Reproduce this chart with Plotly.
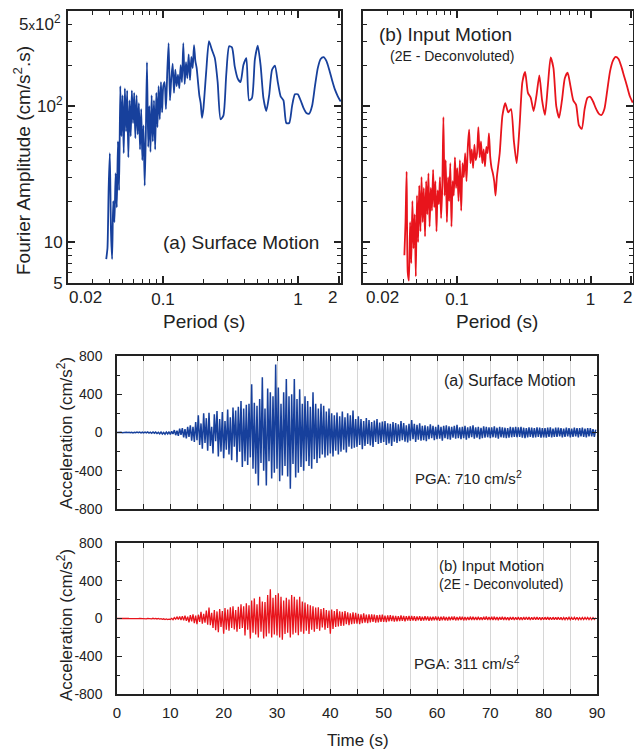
import numpy as np
import plotly.graph_objects as go

# ---------------- Fourier amplitude spectra ----------------
period_s = [
    0.0380, 0.0388, 0.0396, 0.0404, 0.0412, 0.0420, 0.0428, 0.0437, 0.0446, 0.0455,
    0.0464, 0.0473, 0.0483, 0.0492, 0.0502, 0.0512, 0.0522, 0.0533, 0.0543, 0.0554,
    0.0565, 0.0577, 0.0588, 0.0600, 0.0612, 0.0624, 0.0637, 0.0650, 0.0663, 0.0676,
    0.0690, 0.0703, 0.0717, 0.0732, 0.0746, 0.0761, 0.0777, 0.0792, 0.0808, 0.0824,
    0.0841, 0.0858, 0.0875, 0.0892, 0.0910, 0.0928, 0.0947, 0.0966, 0.0985, 0.1005,
    0.1028, 0.1052, 0.1076, 0.1101, 0.1126, 0.1152, 0.1179, 0.1206, 0.1234, 0.1262,
    0.1291, 0.1321, 0.1351, 0.1382, 0.1414, 0.1447, 0.1480, 0.1514, 0.1549, 0.1585,
    0.1621, 0.1659, 0.1697, 0.1736, 0.1776, 0.1817, 0.1858, 0.1901, 0.1945, 0.1990,
    0.209, 0.219, 0.230, 0.242, 0.254, 0.267, 0.280, 0.294, 0.309, 0.324,
    0.340, 0.357, 0.375, 0.394, 0.414, 0.434, 0.456, 0.479, 0.503, 0.528,
    0.554, 0.582, 0.611, 0.642, 0.674, 0.708, 0.743, 0.780, 0.819, 0.860,
    0.903, 0.948, 0.995, 1.045, 1.097, 1.152, 1.210, 1.270, 1.334, 1.400,
    1.470, 1.544, 1.621, 1.702, 1.787, 1.877, 1.970, 2.070,
]

fourier_surface = [
    7.5, 9, 25, 45, 12, 7.5, 20, 14, 32, 18,
    55, 24, 140, 60, 120, 45, 135, 65, 130, 42,
    110, 60, 130, 75, 125, 58, 120, 62, 105, 48,
    95, 40, 72, 26, 60, 210, 50, 100, 46, 120,
    55, 110, 48, 125, 70, 140, 80, 150, 90, 140,
    150, 95, 180, 290, 110, 160, 205, 125, 185, 140,
    170, 135, 200, 150, 290, 145, 210, 160, 240, 155,
    230, 190, 280, 215, 190, 150, 120, 105, 82, 95,
    180, 300, 260, 225, 150, 80, 85, 170, 275, 270,
    195, 160, 150, 200, 225, 110, 115, 220, 278, 200,
    115, 92, 120, 185, 198, 150, 118, 110, 75, 75,
    100, 122, 122, 110, 97, 89, 88, 100, 140, 190,
    222, 229, 215, 185, 155, 132, 118, 108,
]

fourier_input = [
    None, None, None, 8, 14, 33, 6, 5.2, 14, 7,
    20, 9, 16, 5.6, 22, 10, 26, 12, 30, 14,
    25, 11, 28, 16, 32, 13, 25, 17, 34, 18,
    28, 12, 24, 19, 30, 15, 26, 83, 22, 40,
    14, 30, 20, 38, 13, 28, 22, 42, 25, 35,
    20, 40, 17, 38, 30, 45, 28, 50, 67, 38,
    48, 35, 52, 40, 45, 70, 42, 55, 38, 48,
    36, 50, 45, 63, 42, 35, 32, 28, 22, 30,
    45, 85, 105, 90, 95, 55, 38, 70, 150, 178,
    125, 115, 92, 120, 168, 110, 86, 140, 228, 190,
    100, 82, 110, 160, 176, 140, 110, 102, 72, 68,
    95, 115, 117, 108, 96, 88, 86, 95, 130, 180,
    215, 230, 222, 195, 165, 140, 118, 106,
]

# ---------------- Acceleration time histories (cm/s^2) ----------------
dt = 0.25
time_s = np.round(np.arange(360) * dt, 2)

acc_surface = [
    0, 2, -1, 3, -2, 1, -3, 2, -1, 3,
    -2, 3, -4, 2, -3, 4, -2, 5, -4, 3,
    -5, 4, -3, 6, -6, 3, -8, 5, -7, 4,
    -10, 2, -14, 4, -16, 0, -18, 5, -15, 8,
    -20, 12, -16, 25, -28, 18, -35, 40, -25, 45,
    -50, 35, -62, 58, -45, 75, -85, 60, -100, 110,
    -80, 180, -130, 95, -170, 200, -110, 150, -190, 205,
    -140, 60, -220, 190, -90, 225, -250, 140, -200, 215,
    -270, 120, -180, 240, -230, 160, -290, 260, -150, 230,
    -310, 270, -200, 330, -360, 250, -300, 290, -340, 300,
    -260, 505, -380, 310, -430, 280, -555, 350, -320, 577,
    -400, 250, -555, 460, -300, 420, -480, 380, -420, 710,
    -380, 470, -510, 300, -450, 420, -350, 559, -460, 380,
    -587, 400, -330, 559, -470, 350, -420, 453, -360, 300,
    -400, 380, -300, 330, -350, 270, -380, 420, -280, 300,
    -320, 250, -270, 300, -230, 280, -260, 220, -240, 250,
    -220, 200, -250, 180, -190, 210, -230, 170, -200, 220,
    -180, 160, -210, 200, -150, 180, -170, 230, -160, 140,
    -150, 170, -130, 140, -175, 120, -140, 150, -120, 130,
    -135, 110, -150, 125, -100, 140, -120, 105, -110, 115,
    -100, 120, -130, 95, -115, 90, -140, 110, -95, 100,
    -110, 85, -90, 120, -80, 100, -95, 75, -105, 90,
    -85, 130, -70, 90, -100, 80, -75, 95, -85, 70,
    -80, 75, -90, 65, -70, 85, -60, 70, -80, 60,
    -70, 80, -65, 60, -85, 70, -60, 75, -70, 65,
    -75, 60, -55, 70, -65, 80, -60, 55, -70, 60,
    -60, 70, -75, 55, -60, 65, -50, 75, -65, 55,
    -55, 60, -70, 50, -60, 65, -55, 60, -50, 55,
    -60, 55, -50, 65, -55, 50, -65, 60, -50, 55,
    -55, 50, -60, 45, -55, 60, -50, 55, -45, 60,
    -50, 55, -45, 60, -55, 50, -60, 45, -50, 55,
    -45, 50, -55, 45, -50, 55, -45, 50, -55, 45,
    -50, 45, -55, 50, -45, 55, -50, 40, -45, 50,
    -45, 50, -40, 45, -50, 40, -45, 50, -40, 45,
    -50, 40, -45, 50, -40, 45, -50, 45, -40, 50,
    -45, 40, -50, 45, -40, 45, -40, 35, -45, 30,
]

acc_input = [
    0, 1, -1, 1, 0, -1, 1, -1, 1, 0,
    -1, 1, -1, 2, -1, 1, -2, 1, -1, 2,
    -2, 1, -3, 2, -2, 1, -4, 2, -3, 1,
    -5, 0, -7, -2, -9, -3, -11, -4, -12, -6,
    -10, 2, -12, 10, -6, 15, -10, 20, -15, 25,
    -20, 30, -25, 20, -40, 35, -30, 45, -50, 30,
    -60, 40, -35, 70, -55, 50, -45, 85, -65, 115,
    -70, 60, -100, 90, -125, 75, -145, 100, -90, 80,
    -160, 110, -120, 95, -130, 120, -100, 130, -115, 90,
    -140, 125, -110, 150, -100, 130, -180, 160, -120, 140,
    -213, 190, -150, 213, -170, 150, -200, 230, -140, 180,
    -213, 175, -190, 250, -160, 311, -200, 220, -170, 250,
    -180, 267, -200, 230, -224, 190, -165, 220, -150, 200,
    -200, 250, -170, 230, -150, 200, -178, 231, -140, 180,
    -160, 170, -130, 150, -165, 140, -120, 130, -140, 117,
    -110, 120, -130, 100, -95, 110, -120, 90, -100, 85,
    -160, 95, -110, 80, -90, 100, -85, 75, -80, 70,
    -75, 80, -60, 65, -70, 55, -60, 65, -55, 60,
    -55, 50, -60, 45, -50, 55, -45, 40, -50, 45,
    -40, 45, -35, 40, -45, 35, -40, 38, -35, 40,
    -35, 30, -38, 32, -30, 35, -28, 30, -32, 28,
    -30, 25, -28, 32, -25, 28, -30, 25, -22, 27,
    -25, 28, -22, 25, -26, 22, -20, 25, -24, 20,
    -22, 24, -20, 22, -25, 18, -22, 20, -18, 22,
    -20, 18, -24, 20, -18, 22, -20, 16, -22, 18,
    -18, 20, -16, 22, -20, 15, -18, 20, -16, 18,
    -20, 16, -18, 15, -17, 20, -15, 18, -16, 15,
    -15, 18, -17, 14, -16, 18, -14, 20, -15, 17,
    -16, 18, -15, 20, -17, 15, -18, 16, -14, 18,
    -15, 17, -16, 14, -18, 15, -14, 17, -16, 14,
    -14, 16, -15, 13, -16, 15, -14, 16, -13, 15,
    -15, 13, -14, 16, -12, 15, -14, 13, -15, 12,
    -13, 14, -12, 15, -14, 12, -13, 14, -12, 13,
    -12, 14, -13, 12, -14, 11, -12, 13, -11, 12,
    -12, 11, -13, 12, -11, 13, -12, 10, -11, 12,
    -11, 12, -10, 11, -12, 10, -11, 9, -10, 8,
]

# Period axis: the end labels (0.02 and 2) sit at the frame edges and are
# written beside the frame so they stay clear of the neighbouring panel.
period_ticks = [0.02, 0.1, 1, 2]
period_ticktext = ["", "0.1", "1", ""]
period_minor = [0.03, 0.04, 0.05, 0.06, 0.07, 0.08, 0.09,
                0.2, 0.3, 0.4, 0.5, 0.6, 0.7, 0.8, 0.9]
amp_ticks = [5, 10, 100]
amp_ticktext = ["5", "10", "10<sup>2</sup>"]
amp_minor = [6, 7, 8, 9, 20, 30, 40, 50, 60, 70, 80, 90, 200, 300, 400, 500]
time_ticks = list(range(0, 91, 10))
acc_ticks = [-800, -400, 0, 400, 800]
acc_ticktext = ["-800", "-400", "0", "400", "800"]

BLUE = "#17409c"
RED = "#e8141c"
FONT = "Liberation Sans, Arial, sans-serif"
INK = "#222222"
W, H = 634, 751


def fx(px):
    return px / W


def fy(py):
    return 1 - py / H


fig = go.Figure()
fig.add_trace(go.Scatter(x=period_s, y=fourier_surface, mode="lines",
                         line=dict(color=BLUE, width=1.8, shape="spline", smoothing=0.6),
                         xaxis="x", yaxis="y", showlegend=False))
fig.add_trace(go.Scatter(x=period_s, y=fourier_input, mode="lines",
                         line=dict(color=RED, width=1.8, shape="spline", smoothing=0.6),
                         xaxis="x2", yaxis="y2", showlegend=False))
fig.add_trace(go.Scatter(x=time_s, y=acc_surface, mode="lines",
                         line=dict(color=BLUE, width=1.5),
                         xaxis="x3", yaxis="y3", showlegend=False))
fig.add_trace(go.Scatter(x=time_s, y=acc_input, mode="lines",
                         line=dict(color=RED, width=1.3),
                         xaxis="x4", yaxis="y4", showlegend=False))

tick_font = dict(family=FONT, size=17, color=INK)
tick_font_small = dict(family=FONT, size=14, color=INK)


def log_period_axis(domain, anchor):
    return dict(type="log", domain=domain, anchor=anchor, automargin=False,
                range=[np.log10(0.0198), np.log10(2.08)],
                tickmode="array", tickvals=period_ticks, ticktext=period_ticktext,
                ticks="inside", ticklen=7, tickwidth=1.5, tickcolor=INK,
                minor=dict(tickmode="array", tickvals=period_minor, ticks="inside",
                           ticklen=4, tickwidth=1.2, tickcolor=INK),
                showline=True, linecolor=INK, linewidth=2, mirror="ticks",
                showgrid=False, zeroline=False, tickfont=tick_font)


def log_amp_axis(domain, anchor, labels):
    return dict(type="log", domain=domain, anchor=anchor, automargin=False,
                range=[np.log10(5), np.log10(500)],
                tickmode="array", tickvals=amp_ticks, ticktext=amp_ticktext,
                showticklabels=labels,
                ticks="inside", ticklen=7, tickwidth=1.5, tickcolor=INK,
                minor=dict(tickmode="array", tickvals=amp_minor, ticks="inside",
                           ticklen=4, tickwidth=1.2, tickcolor=INK),
                showline=True, linecolor=INK, linewidth=2, mirror="ticks",
                showgrid=False, zeroline=False, tickfont=tick_font)


def time_axis(domain, anchor, labels):
    return dict(domain=domain, anchor=anchor, range=[0, 90], automargin=False,
                tickmode="array", tickvals=time_ticks, showticklabels=labels,
                ticks="inside", ticklen=5, tickwidth=1.2, tickcolor=INK,
                minor=dict(dtick=5, tick0=0, ticks="inside", ticklen=5, tickwidth=1.2,
                           tickcolor=INK, showgrid=True, gridcolor="#d6d6d6", gridwidth=1),
                showgrid=True, gridcolor="#d6d6d6", gridwidth=1,
                showline=True, linecolor=INK, linewidth=1.5, mirror="ticks",
                zeroline=False, tickfont=dict(family=FONT, size=15, color=INK),
                ticklabelstandoff=4)


def acc_axis(domain, anchor):
    return dict(domain=domain, anchor=anchor, range=[-800, 800], automargin=False,
                tickmode="array", tickvals=acc_ticks, ticktext=acc_ticktext,
                ticks="inside", ticklen=5, tickwidth=1.2, tickcolor=INK,
                minor=dict(dtick=200, tick0=0, ticks="inside", ticklen=3,
                           tickwidth=1, tickcolor=INK),
                showline=True, linecolor=INK, linewidth=1.5, mirror="ticks",
                showgrid=False, zeroline=False, tickfont=tick_font_small,
                ticklabelstandoff=10)


top_dom = [fy(283), fy(11)]
time_dom = [fx(117), fx(597)]
fig.update_layout(
    width=W, height=H,
    margin=dict(l=0, r=0, t=0, b=0, autoexpand=False),
    paper_bgcolor="white", plot_bgcolor="white",
    font=dict(family=FONT, size=16, color=INK),
    xaxis=log_period_axis([fx(68), fx(341)], "y"),
    yaxis=log_amp_axis(top_dom, "x", True),
    xaxis2=log_period_axis([fx(363), fx(633)], "y2"),
    yaxis2=log_amp_axis(top_dom, "x2", False),
    xaxis3=time_axis(time_dom, "y3", False),
    yaxis3=acc_axis([fy(509), fy(356)], "x3"),
    xaxis4=time_axis(time_dom, "y4", True),
    yaxis4=acc_axis([fy(694), fy(543)], "x4"),
)

pga_surface = int(max(abs(v) for v in acc_surface))
pga_input = int(max(abs(v) for v in acc_input))


def label(text, x, y, size, xanchor="center", angle=None):
    ann = dict(text=text, x=fx(x), y=fy(y), xref="paper", yref="paper",
               xanchor=xanchor, yanchor="middle", showarrow=False,
               font=dict(family=FONT, size=size, color=INK))
    if angle is not None:
        ann["textangle"] = angle
    return ann


fig.update_layout(annotations=[
    label("Fourier Amplitude (cm/s<sup>2</sup>.s)", 22, 161, 19, angle=-90),
    label("5<span style=\"font-size:13px\">x</span>10<sup>2</sup>", 63, 23, 17,
          xanchor="right"),
    label("0.02", 85, 298, 17),
    label("2", 333, 298, 17),
    label("0.02", 382, 298, 17),
    label("2", 627, 298, 17),
    label("(a) Surface Motion", 241, 242, 19),
    label("(b) Input Motion", 377, 34, 19, xanchor="left"),
    label("(2E - Deconvoluted)", 388, 56, 14, xanchor="left"),
    label("Period (s)", 204, 322, 19),
    label("Period (s)", 497, 322, 19),
    label("Acceleration (cm/s<sup>2</sup>)", 65, 433, 17, angle=-90),
    label("Acceleration (cm/s<sup>2</sup>)", 65, 625, 17, angle=-90),
    label("(a) Surface Motion", 510, 380, 16),
    label(f"PGA: {pga_surface} cm/s<sup>2</sup>", 413, 477, 15, xanchor="left"),
    label("(b) Input Motion", 437, 565, 15, xanchor="left"),
    label("(2E - Deconvoluted)", 437, 584, 14, xanchor="left"),
    label(f"PGA: {pga_input} cm/s<sup>2</sup>", 412, 662, 15, xanchor="left"),
    label("Time (s)", 358, 740, 17),
])

fig.write_html("out.html")
